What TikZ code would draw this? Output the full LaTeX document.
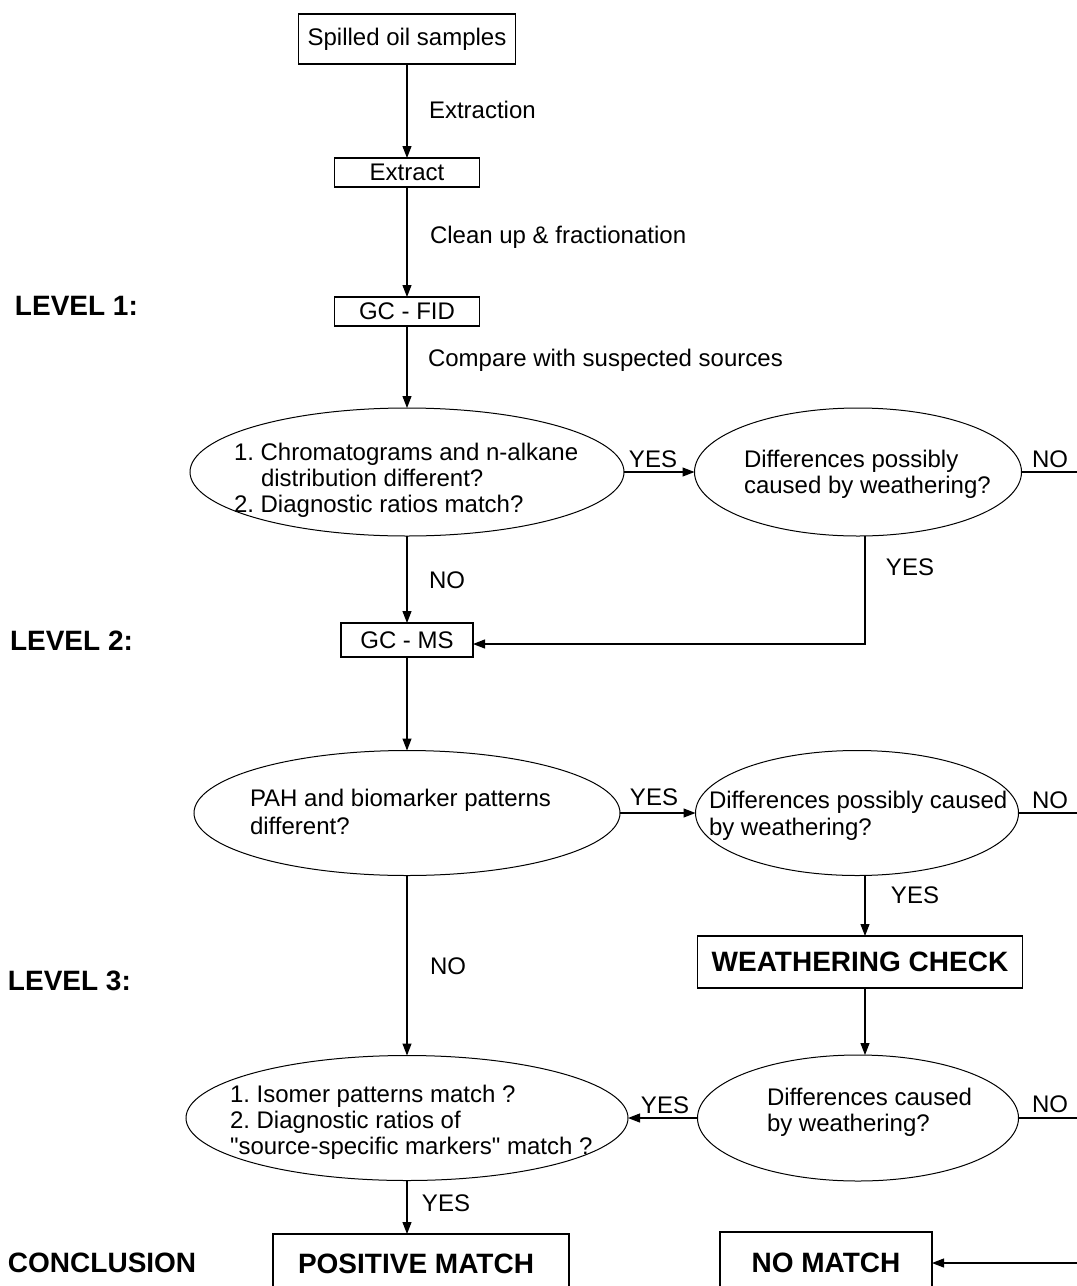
\documentclass[tikz,border=0pt]{standalone}
\usepackage{fontspec}
\setmainfont{Liberation Sans}
\usetikzlibrary{arrows.meta,shapes.geometric}
\frenchspacing
\begin{document}
\begin{tikzpicture}[x=1pt,y=-1pt,
  every node/.style={inner sep=0pt, outer sep=0pt},
  txt/.style={font=\fontsize{24}{26}\selectfont},
  btxt/.style={font=\fontsize{28}{30}\selectfont\bfseries},
  boxn/.style={draw, line width=1.1pt},
  ell/.style={draw, ellipse, line width=1pt},
  arr/.style={line width=1.1pt, -{Triangle[length=12pt,width=9pt]}},
  ln/.style={line width=1.1pt}]
\useasboundingbox (0,0) rectangle (1077,1286);
\clip (0,0) rectangle (1077,1286);

% boxes
\node[boxn, txt, minimum width=217pt, minimum height=50pt] (spill) at (407,39) {Spilled oil samples};
\node[boxn, txt, minimum width=145pt, minimum height=29pt] (extract) at (407,172.5) {Extract};
\node[boxn, txt, minimum width=145pt, minimum height=29pt] (gcfid) at (407,311.5) {GC - FID};
\node[boxn, txt, minimum width=132pt, minimum height=34pt] (gcms) at (407,640) {GC - MS};
\node[boxn, btxt, minimum width=325pt, minimum height=52pt] (wc) at (860,962) {WEATHERING CHECK};
\node[boxn, minimum width=296pt, minimum height=66pt] (pos) at (421,1267) {};
\node[boxn, minimum width=212pt, minimum height=68pt] (nomatch) at (826,1266) {};
\node[btxt, anchor=base] (post) at (416,1273) {POSITIVE MATCH};
\node[btxt, anchor=base] (nomt) at (826,1272) {NO MATCH};

% ellipses
\node[ell, minimum width=434pt, minimum height=128pt] (e1) at (407,472) {};
\node[ell, minimum width=327pt, minimum height=128pt] (e2) at (858,472) {};
\node[ell, minimum width=426pt, minimum height=125pt] (e3) at (407,813) {};
\node[ell, minimum width=323pt, minimum height=125pt] (e4) at (857,813) {};
\node[ell, minimum width=442pt, minimum height=125pt] (e5) at (407,1118) {};
\node[ell, minimum width=321pt, minimum height=126pt] (e6) at (858,1118) {};

% ellipse texts
\node[txt, anchor=base west] (t1a) at (234,460) {1. Chromatograms and n-alkane};
\node[txt, anchor=base west] (t1b) at (261,486) {distribution different?};
\node[txt, anchor=base west] (t1c) at (234,512) {2. Diagnostic ratios match?};
\node[txt, anchor=base west] (t2a) at (744,467) {Differences possibly};
\node[txt, anchor=base west] (t2b) at (744,493) {caused by weathering?};
\node[txt, anchor=base west] (t3a) at (250,806) {PAH and biomarker patterns};
\node[txt, anchor=base west] (t3b) at (250,834) {different?};
\node[txt, anchor=base west] (t4a) at (709,808) {Differences possibly caused};
\node[txt, anchor=base west] (t4b) at (709,835) {by weathering?};
\node[txt, anchor=base west] (t5a) at (230,1102) {1. Isomer patterns match ?};
\node[txt, anchor=base west] (t5b) at (230,1128) {2. Diagnostic ratios of};
\node[txt, anchor=base west] (t5c) at (230,1154) {\textquotedbl source-specific markers\textquotedbl\ match ?};
\node[txt, anchor=base west] (t6a) at (767,1105) {Differences caused};
\node[txt, anchor=base west] (t6b) at (767,1131) {by weathering?};

% side labels
\node[txt, anchor=base west] (lex) at (429,118) {Extraction};
\node[txt, anchor=base west] (lcl) at (430,243) {Clean up \& fractionation};
\node[txt, anchor=base west] (lcm) at (428,366) {Compare with suspected sources};
\node[btxt, anchor=base west] (lv1) at (15,315) {LEVEL 1:};
\node[btxt, anchor=base west] (lv2) at (10,650) {LEVEL 2:};
\node[btxt, anchor=base west] (lv3) at (8,990) {LEVEL 3:};
\node[btxt, anchor=base west] (lcon) at (8,1272) {CONCLUSION};

% yes/no labels
\node[txt, anchor=base] (y1) at (653,467) {YES};
\node[txt, anchor=base] (n1) at (1050,467) {NO};
\node[txt, anchor=base] (n2) at (447,588) {NO};
\node[txt, anchor=base] (y2) at (910,575) {YES};
\node[txt, anchor=base] (y3) at (654,805) {YES};
\node[txt, anchor=base] (n3) at (1050,808) {NO};
\node[txt, anchor=base] (y4) at (915,903) {YES};
\node[txt, anchor=base] (n4) at (448,974) {NO};
\node[txt, anchor=base] (y5) at (665,1113) {YES};
\node[txt, anchor=base] (n5) at (1050,1112) {NO};
\node[txt, anchor=base] (y6) at (446,1211) {YES};

% free ends at right edge
\coordinate (r1) at (1077,472);
\coordinate (r2) at (1077,813);
\coordinate (r3) at (1077,1118);
\coordinate (r4) at (1077,1263);

% connectors
\draw[arr] (spill.south) -- (extract.north);
\draw[arr] (extract.south) -- (gcfid.north);
\draw[arr] (gcfid.south) -- (e1.north);
\draw[arr] (e1.east) -- (e2.west);
\draw[ln] (e2.east) -- (r1);
\draw[arr] (e1.south) -- (gcms.north);
\draw[arr] ([xshift=7pt]e2.south) |- ([yshift=-4pt]gcms.east);
\draw[arr] (gcms.south) -- (e3.north);
\draw[arr] (e3.east) -- (e4.west);
\draw[ln] (e4.east) -- (r2);
\draw[arr] ([xshift=8pt]e4.south) -- ([xshift=5pt]wc.north);
\draw[arr] (e3.south) -- (e5.north);
\draw[arr] ([xshift=5pt]wc.south) -- ([xshift=7pt]e6.north);
\draw[arr] (e6.west) -- (e5.east);
\draw[ln] (e6.east) -- (r3);
\draw[arr] (e5.south) -- (e5.south |- pos.north);
\draw[arr] (r4) -- (r4 -| nomatch.east);
\end{tikzpicture}
\end{document}
